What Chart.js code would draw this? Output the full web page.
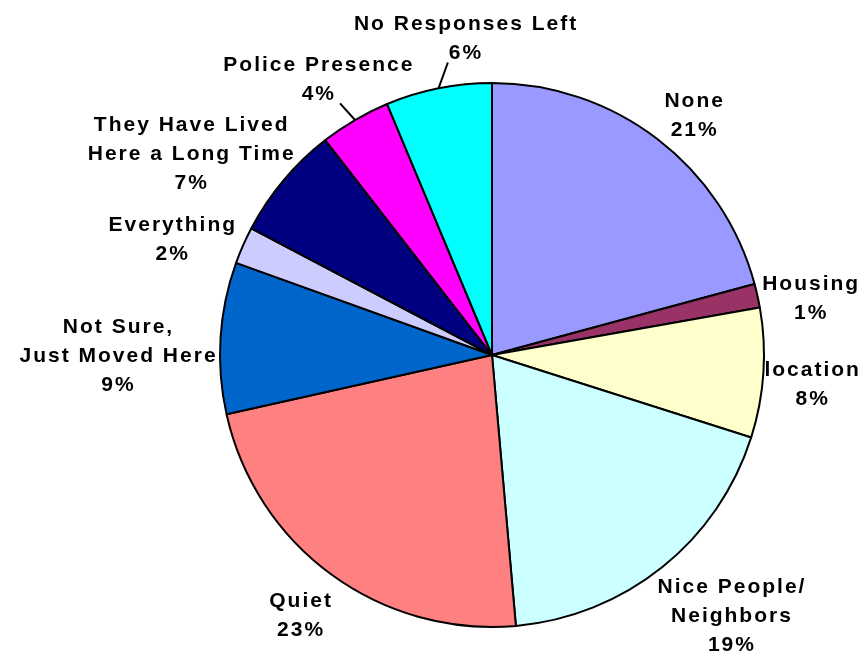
<!DOCTYPE html>
<html>
<head>
<meta charset="utf-8">
<script src="https://cdn.jsdelivr.net/npm/chart.js@4/dist/chart.umd.min.js"></script>
<style>
  html, body { margin: 0; padding: 0; background: #fff; }
  #wrap { width: 863px; height: 656px; position: relative; }
</style>
</head>
<body>
<div id="wrap"><canvas id="pie-chart"></canvas></div>
<script>
// Categories (each one split into label lines)
const categories = [
  ["None"],
  ["Housing"],
  ["location"],
  ["Nice People/", "Neighbors"],
  ["Quiet"],
  ["Not Sure,", "Just Moved Here"],
  ["Everything"],
  ["They Have Lived", "Here a Long Time"],
  ["Police Presence"],
  ["No Responses Left"],
];

// Share of responses (percent)
const shares = [20.8, 1.4, 7.7, 18.7, 22.9, 9, 2.2, 6.8, 4.2, 6.3];

// Slice colours
const sliceColors = [
  "#9999FF",
  "#993366",
  "#FFFFCC",
  "#CCFFFF",
  "#FF8080",
  "#0066CC",
  "#CCCCFF",
  "#000080",
  "#FF00FF",
  "#00FFFF",
];

// Label placement tweaks (pixels) and which labels get a leader line
const labelNudges = [
  [13, 7], [-6, 16], [-10, 8], [33, 4], [-9, 11],
  [6, 25], [-11, 21], [-41, 17], [-19, -9], [33, -17],
];
const leaderLines = [false, false, false, false, false, false, false, false, true, true];

const labelFont = "bold 21px 'Liberation Sans', Arial, sans-serif";
const lineHeight = 29;

// Draws the outside labels with their percentages
const outsideLabels = {
  id: "outsideLabels",
  afterDatasetsDraw(chart) {
    const ctx = chart.ctx;
    const meta = chart.getDatasetMeta(0);
    const total = shares.reduce((a, b) => a + b, 0);

    ctx.save();
    ctx.font = labelFont;
    ctx.letterSpacing = "2px";
    ctx.fillStyle = "#000";
    ctx.textAlign = "center";
    ctx.textBaseline = "middle";

    meta.data.forEach((arc, i) => {
      const lines = [...categories[i], Math.round((shares[i] / total) * 100) + "%"];
      const widths = lines.map((l) => ctx.measureText(l).width);
      const w = Math.max(...widths);
      const h = (lines.length - 1) * lineHeight + 16;

      const mid = (arc.startAngle + arc.endAngle) / 2;
      const dx = Math.cos(mid);
      const dy = Math.sin(mid);
      const t = Math.min(
        Math.abs(dx) > 0.001 ? w / 2 / Math.abs(dx) : Infinity,
        Math.abs(dy) > 0.001 ? h / 2 / Math.abs(dy) : Infinity
      );
      const dist = arc.outerRadius + 10 + t;
      const cx = arc.x + dx * dist + labelNudges[i][0];
      const cy = arc.y + dy * dist + labelNudges[i][1];

      const top = cy - ((lines.length - 1) * lineHeight) / 2;
      lines.forEach((line, j) => {
        ctx.fillText(line, cx + 1, top + j * lineHeight);
      });

      if (leaderLines[i]) {
        const ex = arc.x + dx * arc.outerRadius;
        const ey = arc.y + dy * arc.outerRadius;
        const lastW = widths[widths.length - 1];
        const lx = Math.min(Math.max(ex, cx - lastW / 2), cx + lastW / 2 + 5);
        const ly = cy + h / 2 + 1;
        ctx.beginPath();
        ctx.moveTo(ex, ey);
        ctx.lineTo(lx, ly);
        ctx.lineWidth = 2;
        ctx.strokeStyle = "#000";
        ctx.stroke();
      }
    });
    ctx.restore();
  },
};

const ctx = document.getElementById("pie-chart").getContext("2d");

new Chart(ctx, {
  type: "pie",
  data: {
    labels: categories,
    datasets: [
      {
        data: shares,
        backgroundColor: sliceColors,
        borderColor: "#000",
        borderWidth: 2,
        radius: 272,
      },
    ],
  },
  options: {
    responsive: true,
    maintainAspectRatio: false,
    animation: false,
    layout: {
      padding: { left: 220, right: 99, top: 83, bottom: 29 },
    },
    plugins: {
      legend: { display: false },
      tooltip: { enabled: false },
    },
  },
  plugins: [outsideLabels],
});
</script>
</body>
</html>
